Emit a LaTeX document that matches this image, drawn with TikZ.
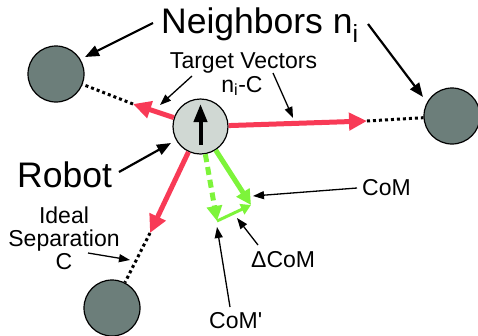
\documentclass[tikz,border=0pt]{standalone}
\usepackage{fontspec}
\setmainfont{Liberation Sans}
\usetikzlibrary{arrows.meta}
\definecolor{vred}{HTML}{F83A56}
\definecolor{vgreen}{HTML}{7DF43A}
\definecolor{nbgray}{HTML}{6C7E7A}
\definecolor{robgray}{HTML}{D0D8D3}
\tikzset{
  neighbor/.style={circle, draw=black, line width=1.2pt, fill=nbgray, minimum size=56pt, inner sep=0pt},
  robotnode/.style={circle, draw=black, line width=1.2pt, fill=robgray, minimum size=55pt, inner sep=0pt},
  redvec/.style={draw=vred, line width=5pt, -{Triangle[length=18pt,width=17pt]}},
  sep/.style={draw=black, line width=3pt, dash pattern=on 3pt off 3pt},
  gsolid/.style={draw=vgreen, line width=5pt, -{Triangle[length=15pt,width=15pt]}},
  gdash/.style={draw=vgreen, line width=5pt, dash pattern=on 8pt off 5pt, -{Triangle[length=15pt,width=15pt]}},
  gsmall/.style={draw=vgreen, line width=3pt, -{Triangle[length=10pt,width=11pt]}},
  bigptr/.style={draw=black, line width=2.2pt, -{Triangle[length=14pt,width=11pt]}},
  ptr/.style={draw=black, line width=1.3pt, -{Triangle[length=11pt,width=8pt]}},
  biglabel/.style={font=\fontsize{35.5}{38}\selectfont, inner sep=0pt},
  label/.style={font=\fontsize{23}{23}\selectfont, inner sep=0pt},
}
\begin{document}
\begin{tikzpicture}[x=1pt,y=-1pt]
\useasboundingbox (0,0) rectangle (478,335);
% nodes
\node[neighbor] (nL) at (56,74) {};
\node[neighbor] (nR) at (452,116) {};
\node[neighbor] (nB) at (112,308) {};
\node[robotnode] (rob) at (200.5,126.5) {};
% tips
\coordinate (tL) at (133,104);
\coordinate (tR) at (367,121);
\coordinate (tB) at (150,233);
\coordinate (gd) at (217,221);
\coordinate (gs) at (251,205);
% separation (dotted)
\draw[sep] (tL) -- (nL);
\draw[sep] (tR) -- (nR);
\draw[sep] (tB) -- (nB);
% red target vectors
\draw[redvec] (rob) -- (tL);
\draw[redvec] (rob) -- (tR);
\draw[redvec] (rob) -- (tB);
% green CoM vectors
\draw[gdash] (rob) -- (gd);
\draw[gsolid] (rob) -- (gs);
\draw[gsmall] (gd) -- (gs);
% heading arrow
\coordinate (hb) at (200.5,145);
\coordinate (ht) at (200.5,104);
\draw[line width=4pt, -{Triangle[length=18pt,width=13pt]}] (hb) -- (ht);
% labels
\node[biglabel, anchor=base west] (lN) at (161,33) {Neighbors n\textsubscript{i}};
\node[biglabel, anchor=base west] (lR) at (17,187) {Robot};
\node[label, anchor=base] (lT) at (243.5,68) {Target Vectors};
\node[label, anchor=base] (lT2) at (242,92) {n\textsubscript{i}-C};
\node[label, align=center] (lS) at (64,238) {Ideal\\Separation\\C};
\node[label, anchor=base west] (lC) at (362,195) {CoM};
\node[label, anchor=base west] (lD) at (251,267) {ΔCoM};
\node[label, anchor=base west] (lC2) at (209,328) {CoM\textquotesingle};
% pointers
\coordinate (pN1) at (153,23);
\coordinate (pN1t) at (85,57);
\coordinate (pN2) at (368,24);
\coordinate (pN2t) at (423,97);
\draw[bigptr] (pN1) -- (pN1t);
\draw[bigptr] (pN2) -- (pN2t);
\coordinate (pR) at (119,172);
\coordinate (pRt) at (171,143);
\draw[bigptr] (pR) -- (pRt);
\coordinate (pT1) at (192,76);
\coordinate (pT1t) at (160,105);
\coordinate (pT2) at (273,73);
\coordinate (pT2t) at (293,118);
\draw[ptr] (pT1) -- (pT1t);
\draw[ptr] (pT2) -- (pT2t);
\coordinate (pS) at (88,253);
\coordinate (pSt) at (130,260);
\draw[ptr] (pS) -- (pSt);
\coordinate (pC) at (357,188);
\coordinate (pCt) at (253,196);
\draw[ptr] (pC) -- (pCt);
\coordinate (pD) at (258,245);
\coordinate (pDt) at (237,218);
\draw[ptr] (pD) -- (pDt);
\coordinate (pC2) at (230,307);
\coordinate (pC2t) at (217,227);
\draw[ptr] (pC2) -- (pC2t);
\end{tikzpicture}
\end{document}
